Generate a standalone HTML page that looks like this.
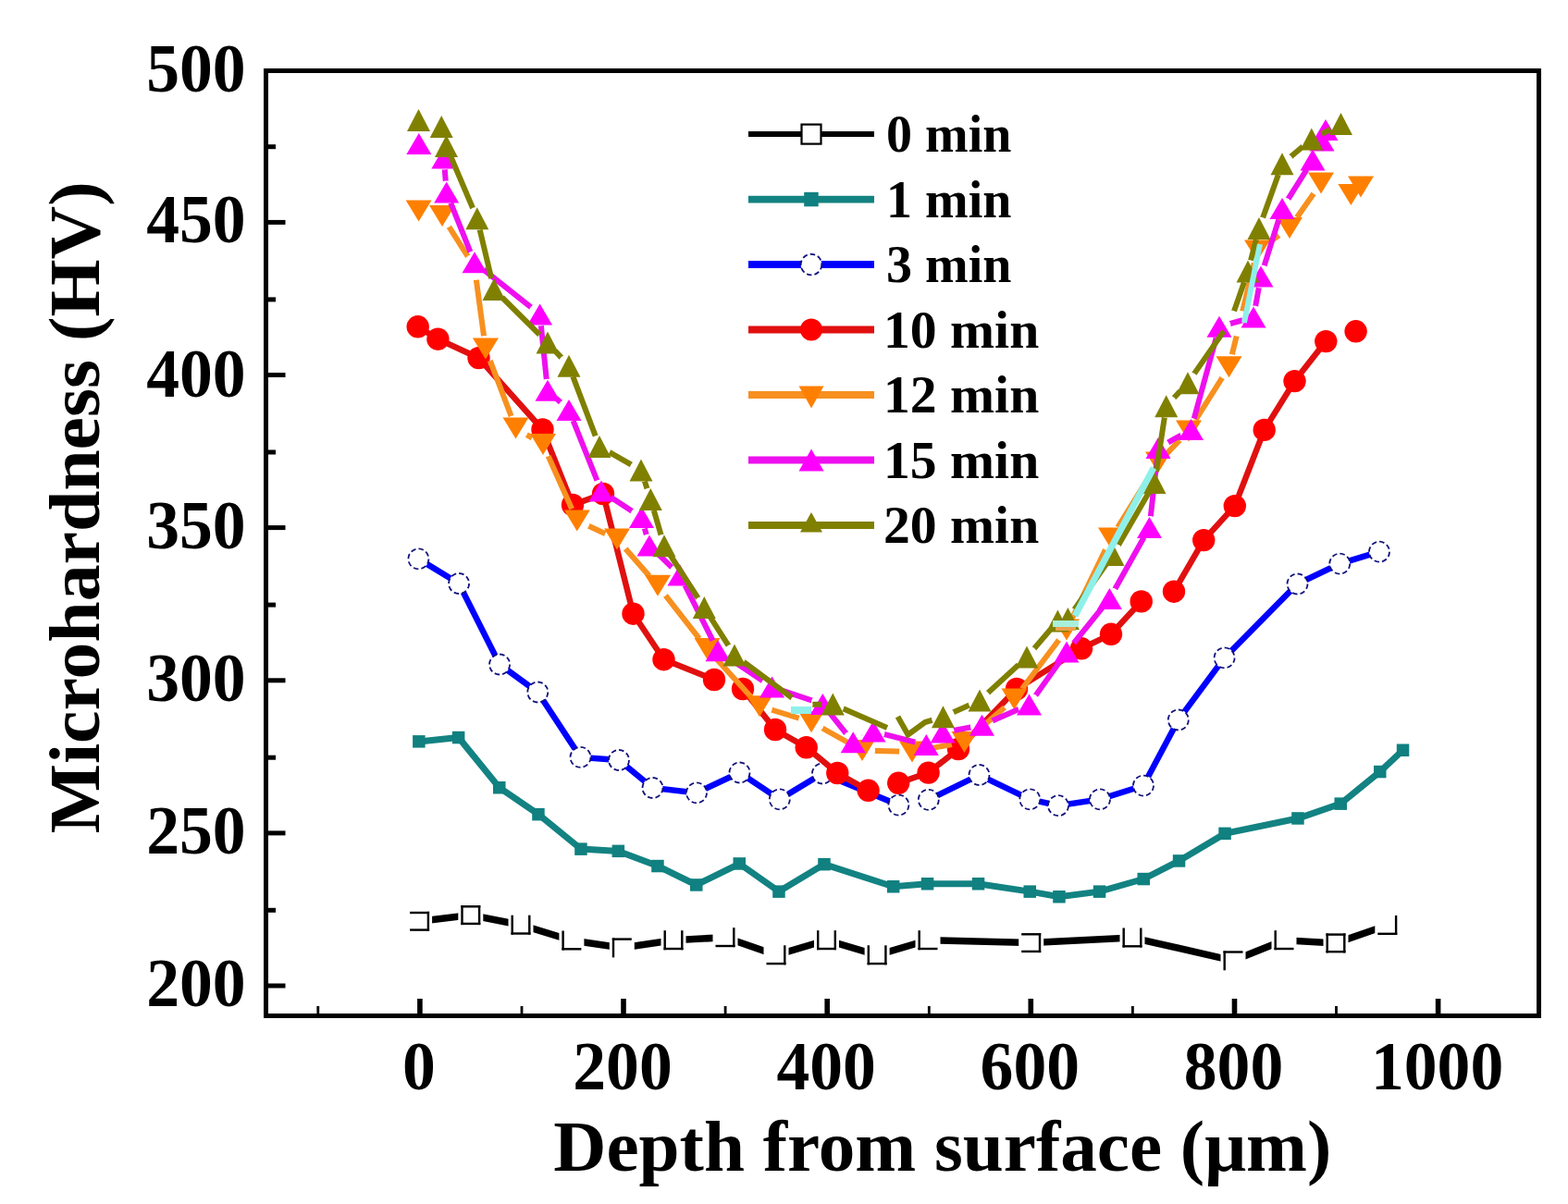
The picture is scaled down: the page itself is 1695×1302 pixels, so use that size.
<!DOCTYPE html>
<html><head><meta charset="utf-8"><title>Microhardness vs depth</title>
<style>html,body{margin:0;padding:0;background:#fff;}svg{display:block;}</style>
</head><body>
<svg width="1695" height="1302" viewBox="0 0 1695 1302">
<rect width="1695" height="1302" fill="#fff"/>
<defs><clipPath id="pa"><rect x="290" y="79" width="1371" height="1017"/></clipPath></defs>
<g clip-path="url(#pa)">
<polyline points="453.6,996.3 508.8,989.6 563,1000.2 617.9,1017 672.3,1024.9 728,1016.7 784,1013.7 839,1032.8 893.5,1016.7 948.1,1032.8 1003,1016.7 1114.7,1019.6 1224,1014 1333,1038.8 1388,1016.7 1444,1019.9 1499.8,1000.5" fill="none" stroke="#000" stroke-width="7.5" stroke-linejoin="miter" stroke-miterlimit="2"/>
<rect x="440.1" y="982.8" width="27" height="27" fill="#fff"/><rect x="443.1" y="985.8" width="21" height="2.4" fill="#000"/><rect x="443.1" y="1004.4" width="21" height="2.4" fill="#000"/><rect x="461.7" y="985.8" width="2.4" height="21" fill="#000"/>
<rect x="495.3" y="976.1" width="27" height="27" fill="#fff"/><rect x="498.3" y="979.1" width="21" height="2.4" fill="#000"/><rect x="498.3" y="997.7" width="21" height="2.4" fill="#000"/><rect x="498.3" y="979.1" width="2.4" height="21" fill="#000"/><rect x="516.9" y="979.1" width="2.4" height="21" fill="#000"/>
<rect x="549.5" y="986.7" width="27" height="27" fill="#fff"/><rect x="552.5" y="1008.3" width="21" height="2.4" fill="#000"/><rect x="552.5" y="989.7" width="2.4" height="21" fill="#000"/><rect x="571.1" y="989.7" width="2.4" height="21" fill="#000"/>
<rect x="604.4" y="1003.5" width="27" height="27" fill="#fff"/><rect x="607.4" y="1025.1" width="21" height="2.4" fill="#000"/><rect x="607.4" y="1006.5" width="2.4" height="21" fill="#000"/>
<rect x="658.8" y="1011.4" width="27" height="27" fill="#fff"/><rect x="661.8" y="1014.4" width="21" height="2.4" fill="#000"/><rect x="661.8" y="1014.4" width="2.4" height="21" fill="#000"/>
<rect x="714.5" y="1003.2" width="27" height="27" fill="#fff"/><rect x="717.5" y="1024.8" width="21" height="2.4" fill="#000"/><rect x="717.5" y="1006.2" width="2.4" height="21" fill="#000"/><rect x="736.1" y="1006.2" width="2.4" height="21" fill="#000"/>
<rect x="770.5" y="1000.2" width="27" height="27" fill="#fff"/><rect x="773.5" y="1021.8" width="21" height="2.4" fill="#000"/><rect x="792.1" y="1003.2" width="2.4" height="21" fill="#000"/>
<rect x="825.5" y="1019.3" width="27" height="27" fill="#fff"/><rect x="828.5" y="1040.9" width="21" height="2.4" fill="#000"/><rect x="847.1" y="1022.3" width="2.4" height="21" fill="#000"/>
<rect x="880" y="1003.2" width="27" height="27" fill="#fff"/><rect x="883" y="1024.8" width="21" height="2.4" fill="#000"/><rect x="883" y="1006.2" width="2.4" height="21" fill="#000"/><rect x="901.6" y="1006.2" width="2.4" height="21" fill="#000"/>
<rect x="934.6" y="1019.3" width="27" height="27" fill="#fff"/><rect x="937.6" y="1040.9" width="21" height="2.4" fill="#000"/><rect x="937.6" y="1022.3" width="2.4" height="21" fill="#000"/><rect x="956.2" y="1022.3" width="2.4" height="21" fill="#000"/>
<rect x="989.5" y="1003.2" width="27" height="27" fill="#fff"/><rect x="992.5" y="1024.8" width="21" height="2.4" fill="#000"/><rect x="992.5" y="1006.2" width="2.4" height="21" fill="#000"/>
<rect x="1101.2" y="1006.1" width="27" height="27" fill="#fff"/><rect x="1104.2" y="1009.1" width="21" height="2.4" fill="#000"/><rect x="1104.2" y="1027.7" width="21" height="2.4" fill="#000"/><rect x="1122.8" y="1009.1" width="2.4" height="21" fill="#000"/>
<rect x="1210.5" y="1000.5" width="27" height="27" fill="#fff"/><rect x="1213.5" y="1022.1" width="21" height="2.4" fill="#000"/><rect x="1213.5" y="1003.5" width="2.4" height="21" fill="#000"/><rect x="1232.1" y="1003.5" width="2.4" height="21" fill="#000"/>
<rect x="1319.5" y="1025.3" width="27" height="27" fill="#fff"/><rect x="1322.5" y="1028.3" width="21" height="2.4" fill="#000"/><rect x="1322.5" y="1028.3" width="2.4" height="21" fill="#000"/>
<rect x="1374.5" y="1003.2" width="27" height="27" fill="#fff"/><rect x="1377.5" y="1024.8" width="21" height="2.4" fill="#000"/><rect x="1377.5" y="1006.2" width="2.4" height="21" fill="#000"/>
<rect x="1430.5" y="1006.4" width="27" height="27" fill="#fff"/><rect x="1433.5" y="1009.4" width="21" height="2.4" fill="#000"/><rect x="1433.5" y="1028" width="21" height="2.4" fill="#000"/><rect x="1433.5" y="1009.4" width="2.4" height="21" fill="#000"/><rect x="1452.1" y="1009.4" width="2.4" height="21" fill="#000"/>
<rect x="1486.3" y="987" width="27" height="27" fill="#fff"/><rect x="1489.3" y="1008.6" width="21" height="2.4" fill="#000"/><rect x="1507.9" y="990" width="2.4" height="21" fill="#000"/>
<polyline points="452.8,801.9 495.7,797.5 539.7,851.7 582,880.6 628,918.1 668.4,920.4 711,936.5 752.7,957 799.3,934 842,964.1 891,934.6 965.6,958.8 1002.5,955.8 1057.5,955.8 1113.3,964.1 1145,969.8 1188.6,964.1 1236.2,950.5 1274.5,931 1324.1,901.4 1403,885 1449.2,869.1 1491.7,834.5 1516.5,811.3" fill="none" stroke="#138282" stroke-width="7" stroke-linejoin="miter" stroke-miterlimit="2"/>
<rect x="446.1" y="795.1" width="13.5" height="13.5" fill="#108080"/>
<rect x="488.9" y="790.8" width="13.5" height="13.5" fill="#108080"/>
<rect x="533" y="845" width="13.5" height="13.5" fill="#108080"/>
<rect x="575.2" y="873.9" width="13.5" height="13.5" fill="#108080"/>
<rect x="621.2" y="911.4" width="13.5" height="13.5" fill="#108080"/>
<rect x="661.6" y="913.6" width="13.5" height="13.5" fill="#108080"/>
<rect x="704.2" y="929.8" width="13.5" height="13.5" fill="#108080"/>
<rect x="746" y="950.2" width="13.5" height="13.5" fill="#108080"/>
<rect x="792.5" y="927.2" width="13.5" height="13.5" fill="#108080"/>
<rect x="835.2" y="957.4" width="13.5" height="13.5" fill="#108080"/>
<rect x="884.2" y="927.9" width="13.5" height="13.5" fill="#108080"/>
<rect x="958.9" y="952" width="13.5" height="13.5" fill="#108080"/>
<rect x="995.8" y="949" width="13.5" height="13.5" fill="#108080"/>
<rect x="1050.8" y="949" width="13.5" height="13.5" fill="#108080"/>
<rect x="1106.5" y="957.4" width="13.5" height="13.5" fill="#108080"/>
<rect x="1138.2" y="963" width="13.5" height="13.5" fill="#108080"/>
<rect x="1181.8" y="957.4" width="13.5" height="13.5" fill="#108080"/>
<rect x="1229.5" y="943.8" width="13.5" height="13.5" fill="#108080"/>
<rect x="1267.8" y="924.2" width="13.5" height="13.5" fill="#108080"/>
<rect x="1317.3" y="894.6" width="13.5" height="13.5" fill="#108080"/>
<rect x="1396.2" y="878.2" width="13.5" height="13.5" fill="#108080"/>
<rect x="1442.5" y="862.4" width="13.5" height="13.5" fill="#108080"/>
<rect x="1485" y="827.8" width="13.5" height="13.5" fill="#108080"/>
<rect x="1509.8" y="804.5" width="13.5" height="13.5" fill="#108080"/>
<polyline points="452.4,604.4 496.1,631 540.1,718.5 581.3,748.5 627.5,818.9 669,822 705.5,852 753,857.4 799.5,835.5 842.8,864.4 889,836.5 971.4,870.6" fill="none" stroke="#0000ff" stroke-width="6.5" stroke-linejoin="miter" stroke-miterlimit="2"/>
<polyline points="1003.8,864.8 1058.5,838 1113.3,864.4 1144,871.2 1189,864.4 1236,849.6 1273.8,778.5 1323.6,711.4 1402.5,631.5 1448.3,609.6 1491,596.7" fill="none" stroke="#0000ff" stroke-width="6.5" stroke-linejoin="miter" stroke-miterlimit="2"/>
<circle cx="452.4" cy="604.4" r="11" fill="#fff" stroke="#10107a" stroke-width="1.8" stroke-dasharray="5.5 3.1"/>
<circle cx="496.1" cy="631" r="11" fill="#fff" stroke="#10107a" stroke-width="1.8" stroke-dasharray="5.5 3.1"/>
<circle cx="540.1" cy="718.5" r="11" fill="#fff" stroke="#10107a" stroke-width="1.8" stroke-dasharray="5.5 3.1"/>
<circle cx="581.3" cy="748.5" r="11" fill="#fff" stroke="#10107a" stroke-width="1.8" stroke-dasharray="5.5 3.1"/>
<circle cx="627.5" cy="818.9" r="11" fill="#fff" stroke="#10107a" stroke-width="1.8" stroke-dasharray="5.5 3.1"/>
<circle cx="669" cy="822" r="11" fill="#fff" stroke="#10107a" stroke-width="1.8" stroke-dasharray="5.5 3.1"/>
<circle cx="705.5" cy="852" r="11" fill="#fff" stroke="#10107a" stroke-width="1.8" stroke-dasharray="5.5 3.1"/>
<circle cx="753" cy="857.4" r="11" fill="#fff" stroke="#10107a" stroke-width="1.8" stroke-dasharray="5.5 3.1"/>
<circle cx="799.5" cy="835.5" r="11" fill="#fff" stroke="#10107a" stroke-width="1.8" stroke-dasharray="5.5 3.1"/>
<circle cx="842.8" cy="864.4" r="11" fill="#fff" stroke="#10107a" stroke-width="1.8" stroke-dasharray="5.5 3.1"/>
<circle cx="889" cy="836.5" r="11" fill="#fff" stroke="#10107a" stroke-width="1.8" stroke-dasharray="5.5 3.1"/>
<circle cx="971.4" cy="870.6" r="11" fill="#fff" stroke="#10107a" stroke-width="1.8" stroke-dasharray="5.5 3.1"/>
<circle cx="1003.8" cy="864.8" r="11" fill="#fff" stroke="#10107a" stroke-width="1.8" stroke-dasharray="5.5 3.1"/>
<circle cx="1058.5" cy="838" r="11" fill="#fff" stroke="#10107a" stroke-width="1.8" stroke-dasharray="5.5 3.1"/>
<circle cx="1113.3" cy="864.4" r="11" fill="#fff" stroke="#10107a" stroke-width="1.8" stroke-dasharray="5.5 3.1"/>
<circle cx="1144" cy="871.2" r="11" fill="#fff" stroke="#10107a" stroke-width="1.8" stroke-dasharray="5.5 3.1"/>
<circle cx="1189" cy="864.4" r="11" fill="#fff" stroke="#10107a" stroke-width="1.8" stroke-dasharray="5.5 3.1"/>
<circle cx="1236" cy="849.6" r="11" fill="#fff" stroke="#10107a" stroke-width="1.8" stroke-dasharray="5.5 3.1"/>
<circle cx="1273.8" cy="778.5" r="11" fill="#fff" stroke="#10107a" stroke-width="1.8" stroke-dasharray="5.5 3.1"/>
<circle cx="1323.6" cy="711.4" r="11" fill="#fff" stroke="#10107a" stroke-width="1.8" stroke-dasharray="5.5 3.1"/>
<circle cx="1402.5" cy="631.5" r="11" fill="#fff" stroke="#10107a" stroke-width="1.8" stroke-dasharray="5.5 3.1"/>
<circle cx="1448.3" cy="609.6" r="11" fill="#fff" stroke="#10107a" stroke-width="1.8" stroke-dasharray="5.5 3.1"/>
<circle cx="1491" cy="596.7" r="11" fill="#fff" stroke="#10107a" stroke-width="1.8" stroke-dasharray="5.5 3.1"/>
<polyline points="451.7,353.3 473.4,366.7 517.5,387.1 586.5,464.5 619,546 652,534 684.5,663.7 717.5,713.2 772,735" fill="none" stroke="#e01010" stroke-width="6.5" stroke-linejoin="miter" stroke-miterlimit="2"/>
<polyline points="803,745 838,789 871.7,808.3 905.3,836 938.6,854.8" fill="none" stroke="#e01010" stroke-width="6.5" stroke-linejoin="miter" stroke-miterlimit="2"/>
<polyline points="971.2,846.8 1003.6,835.6 1036,810 1099,745 1169,701.3 1201,685.8 1233.7,650.4" fill="none" stroke="#e01010" stroke-width="6.5" stroke-linejoin="miter" stroke-miterlimit="2"/>
<polyline points="1269,639.7 1301.2,584.1 1334.8,547.1 1366.7,464.9 1399.5,412.1 1433.3,369.1" fill="none" stroke="#e01010" stroke-width="6.5" stroke-linejoin="miter" stroke-miterlimit="2"/>
<circle cx="451.7" cy="353.3" r="12.2" fill="#ff0000"/>
<circle cx="473.4" cy="366.7" r="12.2" fill="#ff0000"/>
<circle cx="517.5" cy="387.1" r="12.2" fill="#ff0000"/>
<circle cx="586.5" cy="464.5" r="12.2" fill="#ff0000"/>
<circle cx="619" cy="546" r="12.2" fill="#ff0000"/>
<circle cx="652" cy="534" r="12.2" fill="#ff0000"/>
<circle cx="684.5" cy="663.7" r="12.2" fill="#ff0000"/>
<circle cx="717.5" cy="713.2" r="12.2" fill="#ff0000"/>
<circle cx="772" cy="735" r="12.2" fill="#ff0000"/>
<circle cx="803" cy="745" r="12.2" fill="#ff0000"/>
<circle cx="838" cy="789" r="12.2" fill="#ff0000"/>
<circle cx="871.7" cy="808.3" r="12.2" fill="#ff0000"/>
<circle cx="905.3" cy="836" r="12.2" fill="#ff0000"/>
<circle cx="938.6" cy="854.8" r="12.2" fill="#ff0000"/>
<circle cx="971.2" cy="846.8" r="12.2" fill="#ff0000"/>
<circle cx="1003.6" cy="835.6" r="12.2" fill="#ff0000"/>
<circle cx="1036" cy="810" r="12.2" fill="#ff0000"/>
<circle cx="1099" cy="745" r="12.2" fill="#ff0000"/>
<circle cx="1169" cy="701.3" r="12.2" fill="#ff0000"/>
<circle cx="1201" cy="685.8" r="12.2" fill="#ff0000"/>
<circle cx="1233.7" cy="650.4" r="12.2" fill="#ff0000"/>
<circle cx="1269" cy="639.7" r="12.2" fill="#ff0000"/>
<circle cx="1301.2" cy="584.1" r="12.2" fill="#ff0000"/>
<circle cx="1334.8" cy="547.1" r="12.2" fill="#ff0000"/>
<circle cx="1366.7" cy="464.9" r="12.2" fill="#ff0000"/>
<circle cx="1399.5" cy="412.1" r="12.2" fill="#ff0000"/>
<circle cx="1433.3" cy="369.1" r="12.2" fill="#ff0000"/>
<circle cx="1465.6" cy="358.3" r="12.2" fill="#ff0000"/>
<mask id="gap4" maskUnits="userSpaceOnUse" x="0" y="0" width="1695" height="1302"><rect width="1695" height="1302" fill="#fff"/><circle cx="452.6" cy="228" r="14" fill="#000"/><circle cx="478" cy="233.5" r="14" fill="#000"/><circle cx="513" cy="289" r="14" fill="#000"/><circle cx="524.9" cy="377.1" r="14" fill="#000"/><circle cx="557.5" cy="463" r="14" fill="#000"/><circle cx="587" cy="480.6" r="14" fill="#000"/><circle cx="623.8" cy="563" r="14" fill="#000"/><circle cx="667" cy="583" r="14" fill="#000"/><circle cx="711" cy="633.2" r="14" fill="#000"/><circle cx="764.5" cy="701.5" r="14" fill="#000"/><circle cx="821" cy="763.7" r="14" fill="#000"/><circle cx="877" cy="780.7" r="14" fill="#000"/><circle cx="932" cy="811.5" r="14" fill="#000"/><circle cx="986" cy="813" r="14" fill="#000"/><circle cx="1042.5" cy="802.4" r="14" fill="#000"/><circle cx="1096.5" cy="756" r="14" fill="#000"/><circle cx="1153" cy="681" r="14" fill="#000"/><circle cx="1201" cy="582" r="14" fill="#000"/><circle cx="1252" cy="500" r="14" fill="#000"/><circle cx="1285" cy="466" r="14" fill="#000"/><circle cx="1328.5" cy="396.8" r="14" fill="#000"/><circle cx="1340" cy="350" r="14" fill="#000"/><circle cx="1359" cy="271" r="14" fill="#000"/><circle cx="1394" cy="246.5" r="14" fill="#000"/><circle cx="1428" cy="198" r="14" fill="#000"/><circle cx="1460.4" cy="210.5" r="14" fill="#000"/><circle cx="1471" cy="202" r="14" fill="#000"/></mask>
<g mask="url(#gap4)">
<polyline points="478,233.5 513,289 524.9,377.1 557.5,463 587,480.6 623.8,563 667,583 711,633.2 764.5,701.5 821,763.7 877,780.7 932,811.5 986,813 1042.5,802.4 1096.5,756 1153,681 1201,582 1252,500 1285,466 1328.5,396.8 1340,350 1359,271 1394,246.5 1428,198" fill="none" stroke="#f7901f" stroke-width="6" stroke-linejoin="miter" stroke-miterlimit="2"/>
</g>
<polygon points="438.6,216.5 466.6,216.5 452.6,239.5" fill="#ff8000"/>
<polygon points="464,222 492,222 478,245" fill="#ff8000"/>
<polygon points="510.9,365.6 538.9,365.6 524.9,388.6" fill="#ff8000"/>
<polygon points="543.5,451.5 571.5,451.5 557.5,474.5" fill="#ff8000"/>
<polygon points="573,469.1 601,469.1 587,492.1" fill="#ff8000"/>
<polygon points="609.8,551.5 637.8,551.5 623.8,574.5" fill="#ff8000"/>
<polygon points="653,571.5 681,571.5 667,594.5" fill="#ff8000"/>
<polygon points="697,621.7 725,621.7 711,644.7" fill="#ff8000"/>
<polygon points="750.5,690 778.5,690 764.5,713" fill="#ff8000"/>
<polygon points="807,752.2 835,752.2 821,775.2" fill="#ff8000"/>
<polygon points="863,769.2 891,769.2 877,792.2" fill="#ff8000"/>
<polygon points="918,800 946,800 932,823" fill="#ff8000"/>
<polygon points="972,801.5 1000,801.5 986,824.5" fill="#ff8000"/>
<polygon points="1028.5,790.9 1056.5,790.9 1042.5,813.9" fill="#ff8000"/>
<polygon points="1082.5,744.5 1110.5,744.5 1096.5,767.5" fill="#ff8000"/>
<polygon points="1139,669.5 1167,669.5 1153,692.5" fill="#ff8000"/>
<polygon points="1187,570.5 1215,570.5 1201,593.5" fill="#ff8000"/>
<polygon points="1238,488.5 1266,488.5 1252,511.5" fill="#ff8000"/>
<polygon points="1271,454.5 1299,454.5 1285,477.5" fill="#ff8000"/>
<polygon points="1314.5,385.3 1342.5,385.3 1328.5,408.3" fill="#ff8000"/>
<polygon points="1345,259.5 1373,259.5 1359,282.5" fill="#ff8000"/>
<polygon points="1380,235 1408,235 1394,258" fill="#ff8000"/>
<polygon points="1414,186.5 1442,186.5 1428,209.5" fill="#ff8000"/>
<polygon points="1446.4,199 1474.4,199 1460.4,222" fill="#ff8000"/>
<polygon points="1457,190.5 1485,190.5 1471,213.5" fill="#ff8000"/>
<mask id="gap5" maskUnits="userSpaceOnUse" x="0" y="0" width="1695" height="1302"><rect width="1695" height="1302" fill="#fff"/><circle cx="452.8" cy="155.4" r="12.5" fill="#000"/><circle cx="479.8" cy="171" r="12.5" fill="#000"/><circle cx="482.7" cy="208" r="12.5" fill="#000"/><circle cx="513" cy="283.8" r="12.5" fill="#000"/><circle cx="583.6" cy="339.9" r="12.5" fill="#000"/><circle cx="592" cy="422.2" r="12.5" fill="#000"/><circle cx="615" cy="443.4" r="12.5" fill="#000"/><circle cx="650" cy="531" r="12.5" fill="#000"/><circle cx="693.5" cy="559.4" r="12.5" fill="#000"/><circle cx="702" cy="589.9" r="12.5" fill="#000"/><circle cx="735" cy="622" r="12.5" fill="#000"/><circle cx="776" cy="703.7" r="12.5" fill="#000"/><circle cx="834.6" cy="743" r="12.5" fill="#000"/><circle cx="889.3" cy="761.4" r="12.5" fill="#000"/><circle cx="922.2" cy="802.7" r="12.5" fill="#000"/><circle cx="944" cy="791" r="12.5" fill="#000"/><circle cx="1001.3" cy="805.6" r="12.5" fill="#000"/><circle cx="1019" cy="792" r="12.5" fill="#000"/><circle cx="1061.5" cy="784.3" r="12.5" fill="#000"/><circle cx="1112.5" cy="762" r="12.5" fill="#000"/><circle cx="1153" cy="705" r="12.5" fill="#000"/><circle cx="1199.4" cy="647.5" r="12.5" fill="#000"/><circle cx="1242.5" cy="570.5" r="12.5" fill="#000"/><circle cx="1252" cy="484.5" r="12.5" fill="#000"/><circle cx="1287.5" cy="464.5" r="12.5" fill="#000"/><circle cx="1318" cy="353.3" r="12.5" fill="#000"/><circle cx="1355" cy="343" r="12.5" fill="#000"/><circle cx="1363" cy="299" r="12.5" fill="#000"/><circle cx="1386" cy="225.6" r="12.5" fill="#000"/><circle cx="1419" cy="173" r="12.5" fill="#000"/><circle cx="1429" cy="152" r="12.5" fill="#000"/><circle cx="1433" cy="140.5" r="12.5" fill="#000"/></mask>
<g mask="url(#gap5)">
<polyline points="479.8,171 482.7,208 513,283.8 583.6,339.9 592,422.2 615,443.4 650,531 693.5,559.4 702,589.9 735,622 776,703.7 834.6,743 889.3,761.4 922.2,802.7 944,791 1001.3,805.6 1019,792 1061.5,784.3 1112.5,762 1153,705 1199.4,647.5 1242.5,570.5 1252,484.5 1287.5,464.5 1318,353.3 1355,343 1363,299 1386,225.6 1419,173 1429,152 1433,140.5" fill="none" stroke="#ee10ee" stroke-width="6" stroke-linejoin="miter" stroke-miterlimit="2"/>
</g>
<polygon points="452.8,143.9 466.3,166.9 439.3,166.9" fill="#ff00ff"/>
<polygon points="479.8,159.5 493.3,182.5 466.3,182.5" fill="#ff00ff"/>
<polygon points="482.7,196.5 496.2,219.5 469.2,219.5" fill="#ff00ff"/>
<polygon points="513,272.3 526.5,295.3 499.5,295.3" fill="#ff00ff"/>
<polygon points="583.6,328.4 597.1,351.4 570.1,351.4" fill="#ff00ff"/>
<polygon points="592,410.7 605.5,433.7 578.5,433.7" fill="#ff00ff"/>
<polygon points="615,431.9 628.5,454.9 601.5,454.9" fill="#ff00ff"/>
<polygon points="650,519.5 663.5,542.5 636.5,542.5" fill="#ff00ff"/>
<polygon points="693.5,547.9 707,570.9 680,570.9" fill="#ff00ff"/>
<polygon points="702,578.4 715.5,601.4 688.5,601.4" fill="#ff00ff"/>
<polygon points="735,610.5 748.5,633.5 721.5,633.5" fill="#ff00ff"/>
<polygon points="776,692.2 789.5,715.2 762.5,715.2" fill="#ff00ff"/>
<polygon points="834.6,731.5 848.1,754.5 821.1,754.5" fill="#ff00ff"/>
<polygon points="889.3,749.9 902.8,772.9 875.8,772.9" fill="#ff00ff"/>
<polygon points="922.2,791.2 935.7,814.2 908.7,814.2" fill="#ff00ff"/>
<polygon points="944,779.5 957.5,802.5 930.5,802.5" fill="#ff00ff"/>
<polygon points="1001.3,794.1 1014.8,817.1 987.8,817.1" fill="#ff00ff"/>
<polygon points="1019,780.5 1032.5,803.5 1005.5,803.5" fill="#ff00ff"/>
<polygon points="1061.5,772.8 1075,795.8 1048,795.8" fill="#ff00ff"/>
<polygon points="1112.5,750.5 1126,773.5 1099,773.5" fill="#ff00ff"/>
<polygon points="1153,693.5 1166.5,716.5 1139.5,716.5" fill="#ff00ff"/>
<polygon points="1199.4,636 1212.9,659 1185.9,659" fill="#ff00ff"/>
<polygon points="1242.5,559 1256,582 1229,582" fill="#ff00ff"/>
<polygon points="1252,473 1265.5,496 1238.5,496" fill="#ff00ff"/>
<polygon points="1287.5,453 1301,476 1274,476" fill="#ff00ff"/>
<polygon points="1318,341.8 1331.5,364.8 1304.5,364.8" fill="#ff00ff"/>
<polygon points="1355,331.5 1368.5,354.5 1341.5,354.5" fill="#ff00ff"/>
<polygon points="1363,287.5 1376.5,310.5 1349.5,310.5" fill="#ff00ff"/>
<polygon points="1386,214.1 1399.5,237.1 1372.5,237.1" fill="#ff00ff"/>
<polygon points="1419,161.5 1432.5,184.5 1405.5,184.5" fill="#ff00ff"/>
<polygon points="1429,140.5 1442.5,163.5 1415.5,163.5" fill="#ff00ff"/>
<polygon points="1433,129 1446.5,152 1419.5,152" fill="#ff00ff"/>
<mask id="gap6" maskUnits="userSpaceOnUse" x="0" y="0" width="1695" height="1302"><rect width="1695" height="1302" fill="#fff"/><circle cx="452.5" cy="130" r="12.5" fill="#000"/><circle cx="477.2" cy="137" r="12.5" fill="#000"/><circle cx="482.5" cy="158" r="12.5" fill="#000"/><circle cx="515.8" cy="236.3" r="12.5" fill="#000"/><circle cx="534" cy="313" r="12.5" fill="#000"/><circle cx="592" cy="370.6" r="12.5" fill="#000"/><circle cx="615" cy="395.7" r="12.5" fill="#000"/><circle cx="648" cy="482.9" r="12.5" fill="#000"/><circle cx="693" cy="508.6" r="12.5" fill="#000"/><circle cx="703.3" cy="540" r="12.5" fill="#000"/><circle cx="718" cy="590.2" r="12.5" fill="#000"/><circle cx="761.3" cy="657.1" r="12.5" fill="#000"/><circle cx="794" cy="708.4" r="12.5" fill="#000"/><circle cx="866" cy="762" r="12.5" fill="#000"/><circle cx="900.3" cy="761.4" r="12.5" fill="#000"/><circle cx="1019.5" cy="775.3" r="12.5" fill="#000"/><circle cx="1059" cy="757.5" r="12.5" fill="#000"/><circle cx="1110" cy="710.6" r="12.5" fill="#000"/><circle cx="1143.4" cy="671.5" r="12.5" fill="#000"/><circle cx="1154.4" cy="669" r="12.5" fill="#000"/><circle cx="1203" cy="600" r="12.5" fill="#000"/><circle cx="1248" cy="522" r="12.5" fill="#000"/><circle cx="1260.7" cy="439.2" r="12.5" fill="#000"/><circle cx="1284" cy="414.2" r="12.5" fill="#000"/><circle cx="1330" cy="348" r="12.5" fill="#000"/><circle cx="1349" cy="293.5" r="12.5" fill="#000"/><circle cx="1361" cy="247" r="12.5" fill="#000"/><circle cx="1386" cy="177.2" r="12.5" fill="#000"/><circle cx="1417.8" cy="150.5" r="12.5" fill="#000"/><circle cx="1449.5" cy="134" r="12.5" fill="#000"/></mask>
<g mask="url(#gap6)">
<polyline points="477.2,137 482.5,158 515.8,236.3 534,313 592,370.6 615,395.7 648,482.9 693,508.6 703.3,540 718,590.2 761.3,657.1 794,708.4 866,762 900.3,761.4 959,787" fill="none" stroke="#7f7f00" stroke-width="6" stroke-linejoin="miter" stroke-miterlimit="2"/>
<polyline points="970.5,775 981.5,794.5 1000,781 1019.5,775.3 1059,757.5 1110,710.6 1143.4,671.5 1154.4,669 1203,600 1248,522 1260.7,439.2 1284,414.2 1330,348 1349,293.5 1361,247 1386,177.2 1417.8,150.5 1449.5,134" fill="none" stroke="#7f7f00" stroke-width="6" stroke-linejoin="miter" stroke-miterlimit="2"/>
</g>
<polygon points="452.5,118 465,142 440,142" fill="#808000"/>
<polygon points="477.2,125 489.7,149 464.7,149" fill="#808000"/>
<polygon points="482.5,146 495,170 470,170" fill="#808000"/>
<polygon points="515.8,224.3 528.3,248.3 503.3,248.3" fill="#808000"/>
<polygon points="534,301 546.5,325 521.5,325" fill="#808000"/>
<polygon points="592,358.6 604.5,382.6 579.5,382.6" fill="#808000"/>
<polygon points="615,383.7 627.5,407.7 602.5,407.7" fill="#808000"/>
<polygon points="648,470.9 660.5,494.9 635.5,494.9" fill="#808000"/>
<polygon points="693,496.6 705.5,520.6 680.5,520.6" fill="#808000"/>
<polygon points="703.3,528 715.8,552 690.8,552" fill="#808000"/>
<polygon points="718,578.2 730.5,602.2 705.5,602.2" fill="#808000"/>
<polygon points="761.3,645.1 773.8,669.1 748.8,669.1" fill="#808000"/>
<polygon points="794,696.4 806.5,720.4 781.5,720.4" fill="#808000"/>
<polygon points="900.3,749.4 912.8,773.4 887.8,773.4" fill="#808000"/>
<polygon points="1019.5,763.3 1032,787.3 1007,787.3" fill="#808000"/>
<polygon points="1059,745.5 1071.5,769.5 1046.5,769.5" fill="#808000"/>
<polygon points="1110,698.6 1122.5,722.6 1097.5,722.6" fill="#808000"/>
<polygon points="1143.4,659.5 1155.9,683.5 1130.9,683.5" fill="#808000"/>
<polygon points="1154.4,657 1166.9,681 1141.9,681" fill="#808000"/>
<polygon points="1203,588 1215.5,612 1190.5,612" fill="#808000"/>
<polygon points="1248,510 1260.5,534 1235.5,534" fill="#808000"/>
<polygon points="1260.7,427.2 1273.2,451.2 1248.2,451.2" fill="#808000"/>
<polygon points="1284,402.2 1296.5,426.2 1271.5,426.2" fill="#808000"/>
<polygon points="1349,281.5 1361.5,305.5 1336.5,305.5" fill="#808000"/>
<polygon points="1361,235 1373.5,259 1348.5,259" fill="#808000"/>
<polygon points="1386,165.2 1398.5,189.2 1373.5,189.2" fill="#808000"/>
<polygon points="1417.8,138.5 1430.3,162.5 1405.3,162.5" fill="#808000"/>
<polygon points="1449.5,122 1462,146 1437,146" fill="#808000"/>
<polyline points="1162,666 1247,506" stroke="#8ff0ea" stroke-width="7" fill="none"/>
<rect x="1138" y="671" width="28" height="7" fill="#a8f0dc"/>
<rect x="1141" y="678" width="22" height="4" fill="#eca050"/>
<polyline points="1345,349 1362,264" stroke="#8ff0ea" stroke-width="6" fill="none"/>
<rect x="855" y="764" width="22" height="8" fill="#8ff0ea"/>
</g>
<rect x="287.5" y="76.5" width="1376" height="1022" fill="none" stroke="#000" stroke-width="5"/>
<rect x="290" y="1063.5" width="18.5" height="5" fill="#000"/>
<rect x="290" y="898.4" width="18.5" height="5" fill="#000"/>
<rect x="290" y="733.3" width="18.5" height="5" fill="#000"/>
<rect x="290" y="568.1" width="18.5" height="5" fill="#000"/>
<rect x="290" y="403" width="18.5" height="5" fill="#000"/>
<rect x="290" y="237.9" width="18.5" height="5" fill="#000"/>
<rect x="290" y="981.8" width="8" height="5" fill="#000"/>
<rect x="290" y="816.7" width="8" height="5" fill="#000"/>
<rect x="290" y="651.6" width="8" height="5" fill="#000"/>
<rect x="290" y="486.5" width="8" height="5" fill="#000"/>
<rect x="290" y="321.4" width="8" height="5" fill="#000"/>
<rect x="290" y="156.2" width="8" height="5" fill="#000"/>
<rect x="451.1" y="1080" width="5.6" height="16" fill="#000"/>
<rect x="671.2" y="1080" width="5.6" height="16" fill="#000"/>
<rect x="891.4" y="1080" width="5.6" height="16" fill="#000"/>
<rect x="1111.5" y="1080" width="5.6" height="16" fill="#000"/>
<rect x="1331.7" y="1080" width="5.6" height="16" fill="#000"/>
<rect x="1551.8" y="1080" width="5.6" height="16" fill="#000"/>
<rect x="342.4" y="1088" width="2.8" height="8" fill="#000"/>
<rect x="562.6" y="1088" width="2.8" height="8" fill="#000"/>
<rect x="782.7" y="1088" width="2.8" height="8" fill="#000"/>
<rect x="1002.9" y="1088" width="2.8" height="8" fill="#000"/>
<rect x="1223" y="1088" width="2.8" height="8" fill="#000"/>
<rect x="1443.1" y="1088" width="2.8" height="8" fill="#000"/>
<text transform="translate(265.6,98.8) scale(0.955,1)" font-family="Liberation Serif, Times New Roman, serif" font-weight="bold" font-size="75" text-anchor="end">500</text>
<text transform="translate(265.6,261.9) scale(0.955,1)" font-family="Liberation Serif, Times New Roman, serif" font-weight="bold" font-size="75" text-anchor="end">450</text>
<text transform="translate(265.6,428.5) scale(0.955,1)" font-family="Liberation Serif, Times New Roman, serif" font-weight="bold" font-size="75" text-anchor="end">400</text>
<text transform="translate(265.6,593.3) scale(0.955,1)" font-family="Liberation Serif, Times New Roman, serif" font-weight="bold" font-size="75" text-anchor="end">350</text>
<text transform="translate(265.6,758.1) scale(0.955,1)" font-family="Liberation Serif, Times New Roman, serif" font-weight="bold" font-size="75" text-anchor="end">300</text>
<text transform="translate(265.6,923) scale(0.955,1)" font-family="Liberation Serif, Times New Roman, serif" font-weight="bold" font-size="75" text-anchor="end">250</text>
<text transform="translate(265.6,1087.8) scale(0.955,1)" font-family="Liberation Serif, Times New Roman, serif" font-weight="bold" font-size="75" text-anchor="end">200</text>
<text transform="translate(452.9,1177.5) scale(0.955,1)" font-family="Liberation Serif, Times New Roman, serif" font-weight="bold" font-size="75" text-anchor="middle">0</text>
<text transform="translate(673,1177.5) scale(0.955,1)" font-family="Liberation Serif, Times New Roman, serif" font-weight="bold" font-size="75" text-anchor="middle">200</text>
<text transform="translate(893.2,1177.5) scale(0.955,1)" font-family="Liberation Serif, Times New Roman, serif" font-weight="bold" font-size="75" text-anchor="middle">400</text>
<text transform="translate(1113.3,1177.5) scale(0.955,1)" font-family="Liberation Serif, Times New Roman, serif" font-weight="bold" font-size="75" text-anchor="middle">600</text>
<text transform="translate(1333.5,1177.5) scale(0.955,1)" font-family="Liberation Serif, Times New Roman, serif" font-weight="bold" font-size="75" text-anchor="middle">800</text>
<text transform="translate(1553.6,1177.5) scale(0.955,1)" font-family="Liberation Serif, Times New Roman, serif" font-weight="bold" font-size="75" text-anchor="middle">1000</text>
<text x="1018.8" y="1265.7" font-family="Liberation Serif, Times New Roman, serif" font-weight="bold" font-size="78" text-anchor="middle" textLength="841" lengthAdjust="spacingAndGlyphs">Depth from surface (μm)</text>
<text transform="translate(106.6,548.8) rotate(-90)" x="0" y="0" font-family="Liberation Serif, Times New Roman, serif" font-weight="bold" font-size="79" text-anchor="middle" textLength="705" lengthAdjust="spacingAndGlyphs">Microhardness (HV)</text>
<line x1="809" y1="145.1" x2="945" y2="145.1" stroke="#000" stroke-width="6"/>
<rect x="866.5" y="134.6" width="21" height="21" fill="#fff" stroke="#000" stroke-width="2.2"/>
<text transform="translate(958,164.3) scale(1.0,1)" font-family="Liberation Serif, Times New Roman, serif" font-weight="bold" font-size="56">0 min</text>
<line x1="809" y1="215.6" x2="945" y2="215.6" stroke="#138282" stroke-width="7.8"/>
<rect x="869.2" y="207.8" width="15.5" height="15.5" fill="#108080"/>
<text transform="translate(958,234.8) scale(1.0,1)" font-family="Liberation Serif, Times New Roman, serif" font-weight="bold" font-size="56">1 min</text>
<line x1="809" y1="286.1" x2="945" y2="286.1" stroke="#0000ff" stroke-width="8"/>
<circle cx="877" cy="286.1" r="11.3" fill="#fff" stroke="#10107a" stroke-width="1.8" stroke-dasharray="5.5 3.1"/>
<text transform="translate(958,305.3) scale(1.0,1)" font-family="Liberation Serif, Times New Roman, serif" font-weight="bold" font-size="56">3 min</text>
<line x1="809" y1="356.6" x2="945" y2="356.6" stroke="#e01010" stroke-width="8"/>
<circle cx="877" cy="356.6" r="12" fill="#ff0000"/>
<text transform="translate(955,375.8) scale(1.03,1)" font-family="Liberation Serif, Times New Roman, serif" font-weight="bold" font-size="56">10 min</text>
<line x1="809" y1="427.1" x2="945" y2="427.1" stroke="#f7901f" stroke-width="8"/>
<polygon points="863.5,417.6 890.5,417.6 877,441.6" fill="#ff8000"/>
<text transform="translate(955,446.3) scale(1.03,1)" font-family="Liberation Serif, Times New Roman, serif" font-weight="bold" font-size="56">12 min</text>
<line x1="809" y1="497.6" x2="945" y2="497.6" stroke="#ee10ee" stroke-width="8"/>
<polygon points="877,485.6 890.5,509.6 863.5,509.6" fill="#ff00ff"/>
<text transform="translate(955,516.8) scale(1.03,1)" font-family="Liberation Serif, Times New Roman, serif" font-weight="bold" font-size="56">15 min</text>
<line x1="809" y1="568.1" x2="945" y2="568.1" stroke="#7f7f00" stroke-width="8"/>
<polygon points="877,553.9 889,575.4 865,575.4" fill="#808000"/>
<text transform="translate(955,587.3) scale(1.03,1)" font-family="Liberation Serif, Times New Roman, serif" font-weight="bold" font-size="56">20 min</text>
</svg>
</body></html>
